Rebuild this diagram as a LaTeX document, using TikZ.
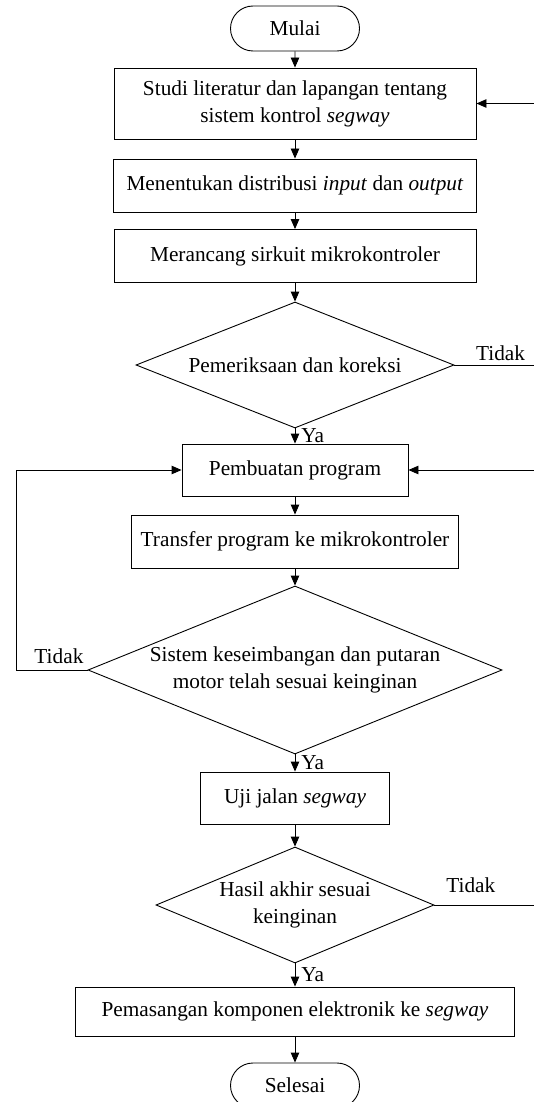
\documentclass[tikz,border=0pt]{standalone}
\usepackage{fontspec}
\setmainfont{Liberation Serif}
\usepackage{tikz}
\usetikzlibrary{arrows.meta,shapes.geometric,shapes.misc}

\begin{document}
\begin{tikzpicture}[x=1pt,y=-1pt,line width=0.9pt,
  font=\fontsize{21.3}{27}\selectfont,
  proses/.style={draw,rectangle,align=center,inner sep=0pt},
  keputusan/.style={draw,diamond,aspect=2.4,align=center,inner sep=0pt},
  terminal/.style={draw,rounded rectangle,minimum width=129pt,minimum height=45pt,inner sep=0pt},
  panah/.style={-{Triangle[length=10pt,width=8.5pt]}},
  ket/.style={inner sep=0pt}]
        \useasboundingbox (0,0) rectangle (534,1102);
        \node[terminal] (mulai) at (295,28.5) {Mulai};
        \node[proses,minimum width=362pt,minimum height=71pt] (studi) at (295,103.5) {Studi literatur dan lapangan tentang\\sistem kontrol \textit{segway}};
        \node[proses,minimum width=363pt,minimum height=53pt] (distribusi) at (295,185.5) {Menentukan distribusi \textit{input} dan \textit{output}};
        \node[proses,minimum width=362pt,minimum height=53pt] (rancang) at (295,256) {Merancang sirkuit mikrokontroler};
        \node[keputusan,minimum width=318pt,minimum height=126pt] (periksa) at (295,365) {Pemeriksaan dan koreksi};
        \node[proses,minimum width=226pt,minimum height=52pt] (program) at (295,470) {Pembuatan program};
        \node[proses,minimum width=327pt,minimum height=53pt] (transfer) at (295,541.5) {Transfer program ke mikrokontroler};
        \node[keputusan,minimum width=414pt,minimum height=168pt] (sistem) at (295,670) {Sistem keseimbangan dan putaran\\motor telah sesuai keinginan};
        \node[proses,minimum width=189pt,minimum height=52pt] (uji) at (295,798) {Uji jalan \textit{segway}};
        \node[keputusan,minimum width=278pt,minimum height=116pt] (hasil) at (295,905) {Hasil akhir sesuai\\keinginan};
        \node[proses,minimum width=439pt,minimum height=49pt] (pasang) at (295,1011.5) {Pemasangan komponen elektronik ke \textit{segway}};
        \node[terminal] (selesai) at (295,1085.5) {Selesai};

        \coordinate (kanan0) at (534,103.5);
        \coordinate (kanan1) at (534,365);
        \coordinate (kanan2) at (534,470);
        \coordinate (kanan3) at (534,905);
        \coordinate (kiri) at (16,470);

        \draw[panah] (mulai) -- (studi);
        \draw[panah] (studi) -- (distribusi);
        \draw[panah] (distribusi) -- (rancang);
        \draw[panah] (rancang) -- (periksa.north);
        \draw[panah] (periksa.south) -- node[ket,right=6pt]{Ya} (program);
        \draw[panah] (program) -- (transfer);
        \draw[panah] (transfer) -- (sistem.north);
        \draw[panah] (sistem.south) -- node[ket,right=6pt]{Ya} (uji);
        \draw[panah] (uji) -- (hasil.north);
        \draw[panah] (hasil.south) -- node[ket,right=6pt]{Ya} (pasang);
        \draw[panah] (pasang) -- (selesai);

        \draw[panah] (kanan0) -- (studi.east);
        \draw[panah] (kanan2) -- (program.east);
        \draw (periksa.east) -- node[ket,above=4pt,pos=0.58]{Tidak} (kanan1);
        \draw (hasil.east) -- node[ket,above=12pt,pos=0.365]{Tidak} (kanan3);
        \draw[panah] (sistem.west) -| node[ket,above=6pt,pos=0.2]{Tidak} (kiri) -- (program.west);
    \end{tikzpicture}
\end{document}
